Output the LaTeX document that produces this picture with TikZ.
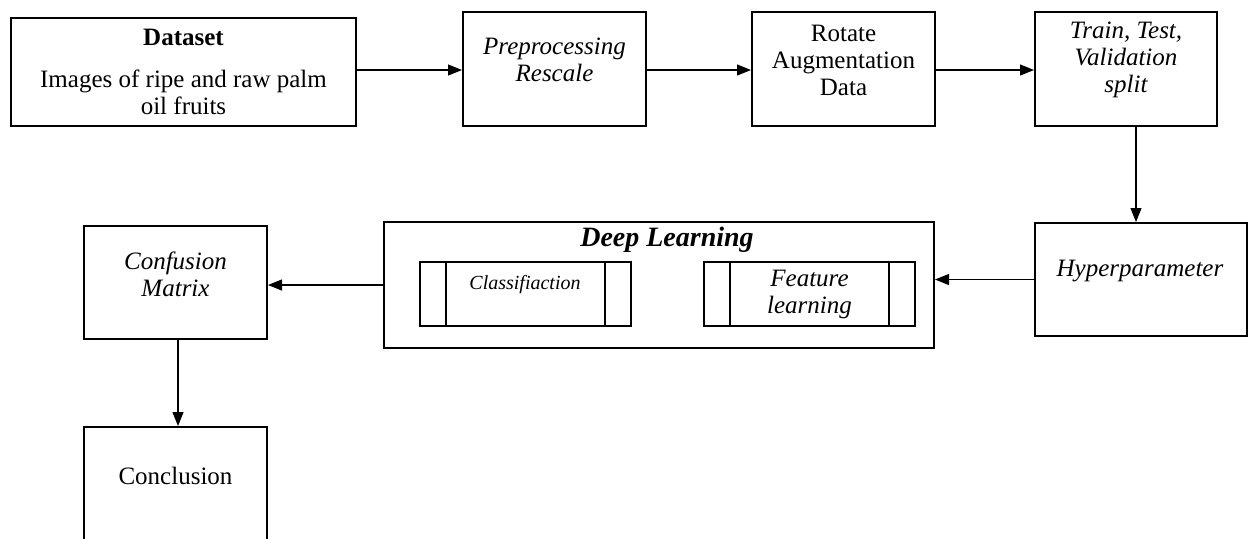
\documentclass[tikz,border=0pt]{standalone}
\usepackage{fontspec}
\setmainfont{Liberation Serif}
\usetikzlibrary{arrows.meta}

\tikzset{
    box/.style={draw, line width=1pt, inner sep=0pt},
    txt/.style={align=center, inner sep=0pt, font=\fontsize{12.5}{13.5}\selectfont},
    arr/.style={-{Triangle[length=7pt,width=5.5pt]}, line width=0.6pt},
}

\begin{document}
\begin{tikzpicture}[x=0.5pt, y=-0.5pt]
    % page
    \useasboundingbox (0,0) rectangle (1248,538);
    % top row
    \node[box, minimum width=172.5pt, minimum height=54pt] (data) at (183.5,72) {};
    \node[box, minimum width=91.5pt, minimum height=57pt] (pre) at (554.5,69) {};
    \node[box, minimum width=91.5pt, minimum height=57pt] (rot) at (843.5,69) {};
    \node[box, minimum width=91pt, minimum height=57pt] (split) at (1126,69) {};
    % middle row
    \node[box, minimum width=106pt, minimum height=56.5pt] (hyper) at (1141,279.5) {};
    \node[box, minimum width=275pt, minimum height=63pt] (dl) at (659,285) {};
    \node[box, minimum width=105.5pt, minimum height=32pt] (cls) at (525.5,294) {};
    \node[box, minimum width=105.5pt, minimum height=32pt] (feat) at (809.5,294) {};
    \node[box, minimum width=91.5pt, minimum height=56.5pt] (cm) at (175.5,282.5) {};
    % bottom
    \node[box, minimum width=91.5pt, minimum height=68pt] (concl) at (175.5,495) {};
    % side bars of the inner boxes
    \foreach \b in {cls, feat} {
        \draw[line width=1pt] ([xshift=13.5pt]\b.north west) -- ([xshift=13.5pt]\b.south west);
        \draw[line width=1pt] ([xshift=-13.5pt]\b.north east) -- ([xshift=-13.5pt]\b.south east);
    }
    % texts
    \node[txt, font=\fontsize{12.5}{13.5}\selectfont\bfseries] (datat) at (183.5,37) {Dataset};
    \node[txt] (datas) at (183.5,92.5) {Images of ripe and raw palm\\oil fruits};
    \node[txt, font=\fontsize{12.5}{13.5}\selectfont\itshape] (pret) at (554.5,59.5) {Preprocessing\\Rescale};
    \node[txt] (rott) at (843.5,60) {Rotate\\Augmentation\\Data};
    \node[txt, font=\fontsize{12.5}{13.5}\selectfont\itshape] (splitt) at (1126,60) {Train, Test,\\Validation\\split};
    \node[txt, font=\fontsize{12.5}{13.5}\selectfont\itshape] (hypert) at (1140,271) {Hyperparameter};
    \node[txt, font=\fontsize{14}{15}\selectfont\bfseries\itshape] (dlt) at (667,240) {Deep Learning};
    \node[txt, font=\fontsize{10}{12}\selectfont\itshape] (clst) at (525,285) {Classifiaction};
    \node[txt, font=\fontsize{12.5}{13.5}\selectfont\itshape] (featt) at (809.5,294.5) {Feature\\learning};
    \node[txt, font=\fontsize{12.5}{13.5}\selectfont\itshape] (cmt) at (175.5,274) {Confusion\\Matrix};
    \node[txt] (conclt) at (175.5,476) {Conclusion};
    % arrows
    \draw[arr] (data.east |- 0,70) -- (pre.west |- 0,70);
    \draw[arr] (pre.east |- 0,70) -- (rot.west |- 0,70);
    \draw[arr] (rot.east |- 0,70) -- (split.west |- 0,70);
    \draw[arr] ([xshift=5pt]split.south) -- ([xshift=5pt]split.south |- hyper.north);
    \draw[arr] (hyper.west) -- (hyper.west -| dl.east);
    \draw[arr] (dl.west) -- (dl.west -| cm.east);
    \draw[arr] ([xshift=1.25pt]cm.south) -- ([xshift=1.25pt]concl.north);
\end{tikzpicture}
\end{document}
